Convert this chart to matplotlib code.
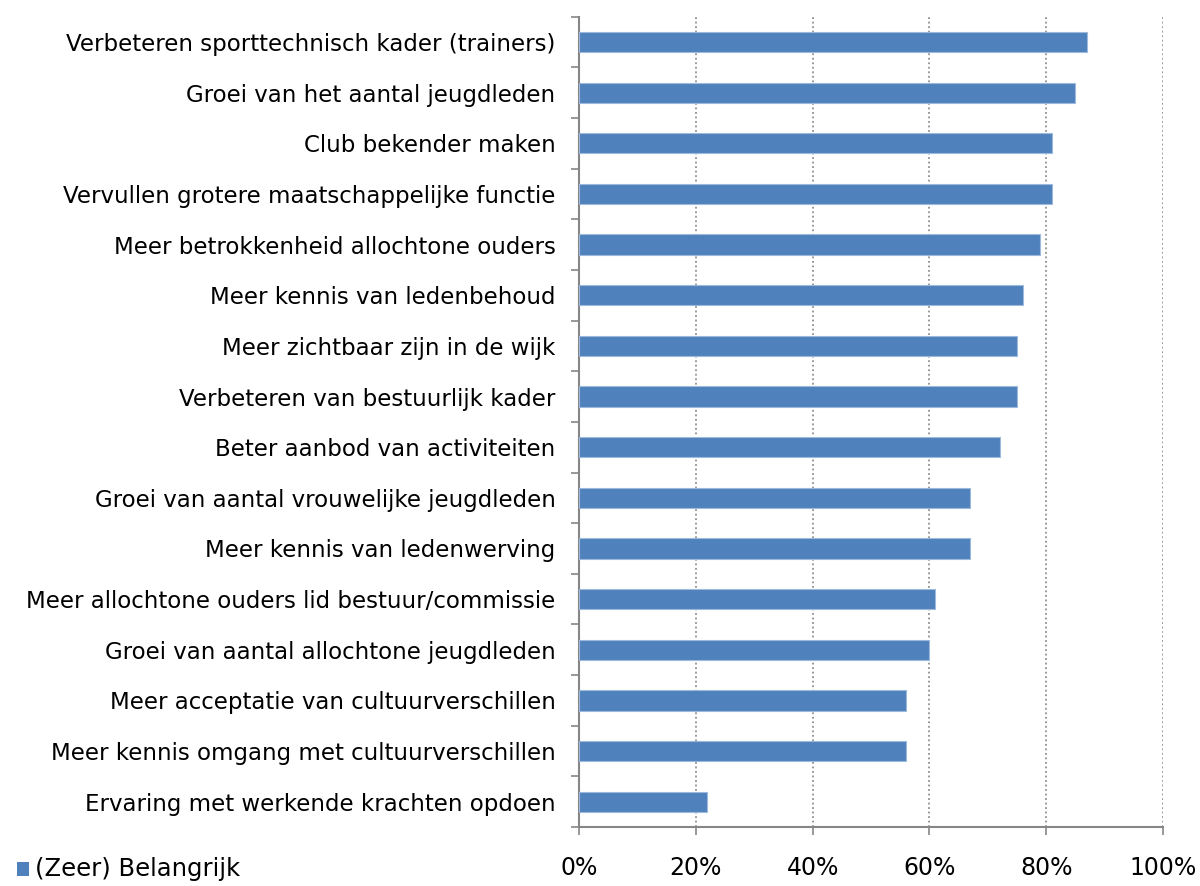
import numpy as np
import matplotlib.pyplot as plt
from matplotlib.patches import Rectangle
from matplotlib.ticker import PercentFormatter

categories = [
    'Verbeteren sporttechnisch kader (trainers)',
    'Groei van het aantal jeugdleden',
    'Club bekender maken',
    'Vervullen grotere maatschappelijke functie',
    'Meer betrokkenheid allochtone ouders',
    'Meer kennis van ledenbehoud',
    'Meer zichtbaar zijn in de wijk',
    'Verbeteren van bestuurlijk kader',
    'Beter aanbod van activiteiten',
    'Groei van aantal vrouwelijke jeugdleden',
    'Meer kennis van ledenwerving',
    'Meer allochtone ouders lid bestuur/commissie',
    'Groei van aantal allochtone jeugdleden',
    'Meer acceptatie van cultuurverschillen',
    'Meer kennis omgang met cultuurverschillen',
    'Ervaring met werkende krachten opdoen',
]
values = [87, 85, 81, 81, 79, 76, 75, 75, 72, 67, 67, 61, 60, 56, 56, 22]
series_name = '(Zeer) Belangrijk'
xticks = [0, 20, 40, 60, 80, 100]

bar_color = '#4F81BD'
axis_color = '#868686'
fs = 16.5

fig = plt.figure(figsize=[12, 8.86], dpi=100)
ax = fig.add_axes([0.4825, 0.0666, 0.4867, 0.9145])

y = np.arange(len(categories))[::-1]
ax.barh(y, values, height=0.4, color=bar_color, edgecolor='#9DB9DC', linewidth=0.8, zorder=3)

ax.set_xlim(0, 100)
ax.set_ylim(-0.5, len(categories) - 0.5)
ax.set_xticks(xticks)
ax.xaxis.set_major_formatter(PercentFormatter(decimals=0))
ax.xaxis.grid(True, linestyle=(0, (1, 1.5)), color='#909090', linewidth=1.3, zorder=0)

# category labels sit between the boundary ticks
ax.set_yticks(y)
ax.set_yticklabels(categories, fontsize=fs)
ax.tick_params(axis='y', length=0, pad=17)
ax.set_yticks(np.arange(-0.5, len(categories), 1.0), minor=True)
ax.tick_params(axis='y', which='minor', length=6, color=axis_color, width=1.2)
ax.tick_params(axis='x', length=6, color=axis_color, width=1.2, labelsize=17, pad=15)

for side in ['top', 'right']:
    ax.spines[side].set_visible(False)
for side in ['left', 'bottom']:
    ax.spines[side].set_color(axis_color)
    ax.spines[side].set_linewidth(1.5)

# legend at bottom left
fig.patches.append(Rectangle((0.014, 0.0115), 0.0100, 0.0160, transform=fig.transFigure,
                             facecolor=bar_color, edgecolor='none'))
fig.text(0.029, 0.0195, series_name, fontsize=17.5, va='center', ha='left')

plt.savefig('out.png', dpi=100)
